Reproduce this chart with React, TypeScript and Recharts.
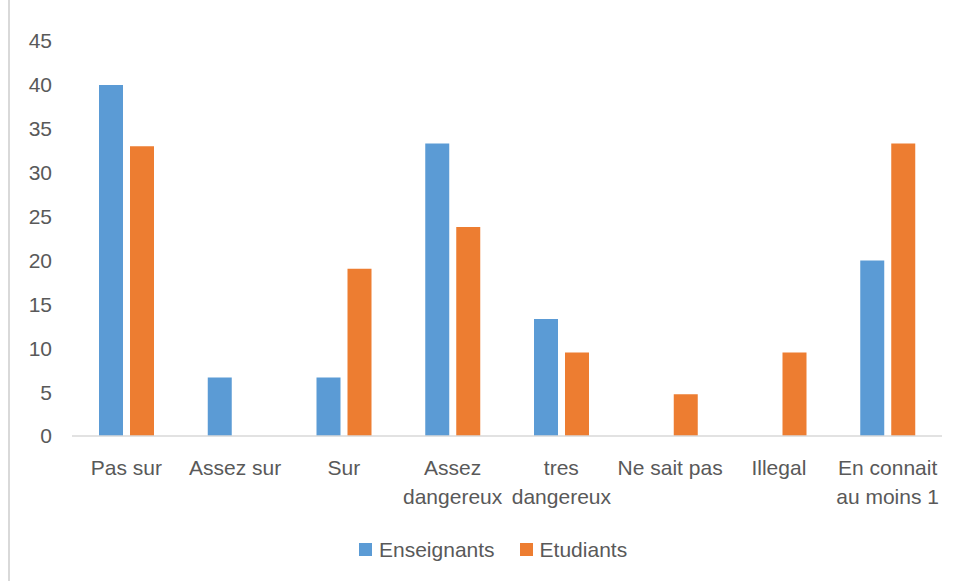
import React from "react";
import { BarChart, Bar, XAxis, YAxis, Legend } from "recharts";

// Categories (a "\n" marks where a label wraps onto a second line)
const categories = [
  "Pas sur",
  "Assez sur",
  "Sur",
  "Assez\ndangereux",
  "tres\ndangereux",
  "Ne sait pas",
  "Illegal",
  "En connait\nau moins 1",
];

// Percentages per group
const enseignants = [40, 6.67, 6.67, 33.33, 13.33, 0, 0, 20];
const etudiants = [33, 0, 19.05, 23.81, 9.52, 4.76, 9.52, 33.33];

const yTicks = [0, 5, 10, 15, 20, 25, 30, 35, 40, 45];

const seriesNames = ["Enseignants", "Etudiants"];
const seriesColors = ["#5b9bd5", "#ed7d31"];

const data = categories.map((name, i) => ({
  name,
  Enseignants: enseignants[i],
  Etudiants: etudiants[i],
}));

const FONT = '"Liberation Sans", Arial, sans-serif';
const TEXT_COLOR = "#595959";

const CategoryTick = (props: any) => {
  const { x, y, payload } = props;
  const lines = String(payload.value).split("\n");
  return (
    <text
      x={x}
      y={y}
      textAnchor="middle"
      fill={TEXT_COLOR}
      fontSize={21}
      fontFamily={FONT}
    >
      {lines.map((line: string, i: number) => (
        <tspan key={i} x={x} dy={i === 0 ? 0 : 29}>
          {line}
        </tspan>
      ))}
    </text>
  );
};

const LegendContent = () => (
  <div
    style={{
      display: "flex",
      alignItems: "center",
      paddingLeft: 359,
      paddingTop: 2,
      fontFamily: FONT,
      fontSize: 21,
      color: TEXT_COLOR,
      lineHeight: "13px",
    }}
  >
    {seriesNames.map((n, i) => (
      <div
        key={n}
        style={{ display: "flex", alignItems: "center", marginRight: 25 }}
      >
        <span
          style={{
            display: "inline-block",
            width: 13,
            height: 13,
            background: seriesColors[i],
            marginRight: 7,
          }}
        />
        <span>{n}</span>
      </div>
    ))}
  </div>
);

export default function App() {
  return (
    <div
      style={{
        position: "absolute",
        left: 0,
        top: 0,
        width: 958,
        height: 581,
        background: "#ffffff",
        overflow: "hidden",
      }}
    >
      <div
        style={{
          position: "absolute",
          left: 8,
          top: 0,
          width: 2,
          height: 581,
          background: "#d9d9d9",
        }}
      />
      <BarChart
        width={958}
        height={581}
        data={data}
        margin={{ top: 41, right: 16, left: 0, bottom: 0 }}
        barSize={24}
        barGap={7}
      >
        <XAxis
          dataKey="name"
          interval={0}
          height={105}
          tickLine={false}
          tickSize={0}
          tickMargin={39}
          axisLine={{ stroke: "#d9d9d9", strokeWidth: 1.5 }}
          tick={<CategoryTick />}
        />
        <YAxis
          width={72}
          domain={[0, 45]}
          ticks={yTicks}
          interval={0}
          axisLine={false}
          tickLine={false}
          tickSize={0}
          tickMargin={20}
          tick={{ fill: TEXT_COLOR, fontSize: 21, fontFamily: FONT }}
        />
        <Legend
          verticalAlign="bottom"
          content={<LegendContent />}
          wrapperStyle={{ left: 0, width: 958, height: 40 }}
        />
        {seriesNames.map((n, i) => (
          <Bar
            key={n}
            dataKey={n}
            fill={seriesColors[i]}
            isAnimationActive={false}
          />
        ))}
      </BarChart>
    </div>
  );
}
